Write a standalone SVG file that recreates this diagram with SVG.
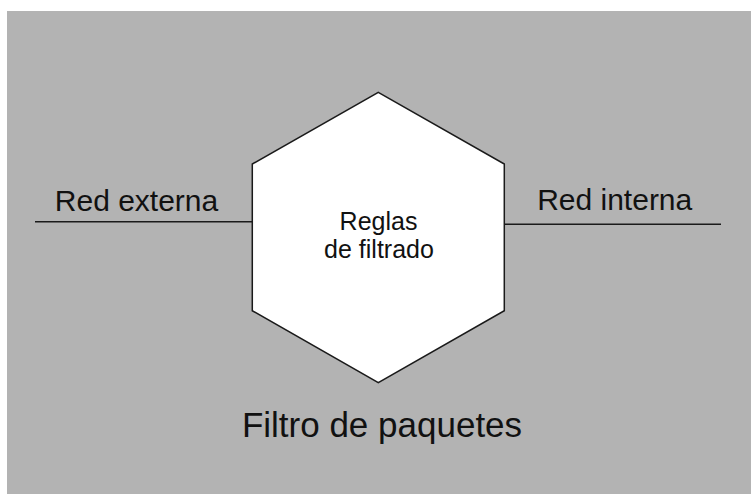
<svg xmlns="http://www.w3.org/2000/svg" width="751" height="494" viewBox="0 0 751 494">
<style>
.lbl{font-family:"Liberation Sans",Arial,sans-serif;fill:#111;text-anchor:middle}
.ln{stroke:#1a1a1a;stroke-width:1.5;fill:none}
</style>
<rect x="0" y="0" width="751" height="494" fill="#ffffff"/>
<rect x="7" y="11" width="744" height="483" fill="#b3b3b3"/>
<g id="connectors">
<line class="ln" x1="35" y1="221.7" x2="252.3" y2="221.7"/>
<line class="ln" x1="504.3" y1="224.3" x2="721" y2="224.3"/>
</g>
<g id="filter">
<polygon points="378.3,92.3 504.3,164 504.3,310.7 378.3,382.7 252.3,310.7 252.3,164" fill="#ffffff" stroke="#1a1a1a" stroke-width="1.5"/>
<text class="lbl" x="378.5" y="230" font-size="25">Reglas</text>
<text class="lbl" x="379" y="258.3" font-size="25">de filtrado</text>
</g>
<g id="ext">
<text class="lbl" x="136.5" y="210.5" font-size="30">Red externa</text>
</g>
<g id="int">
<text class="lbl" x="614.7" y="210.2" font-size="30">Red interna</text>
</g>
<g id="title">
<text class="lbl" x="382" y="436.5" font-size="35">Filtro de paquetes</text>
</g>
</svg>
